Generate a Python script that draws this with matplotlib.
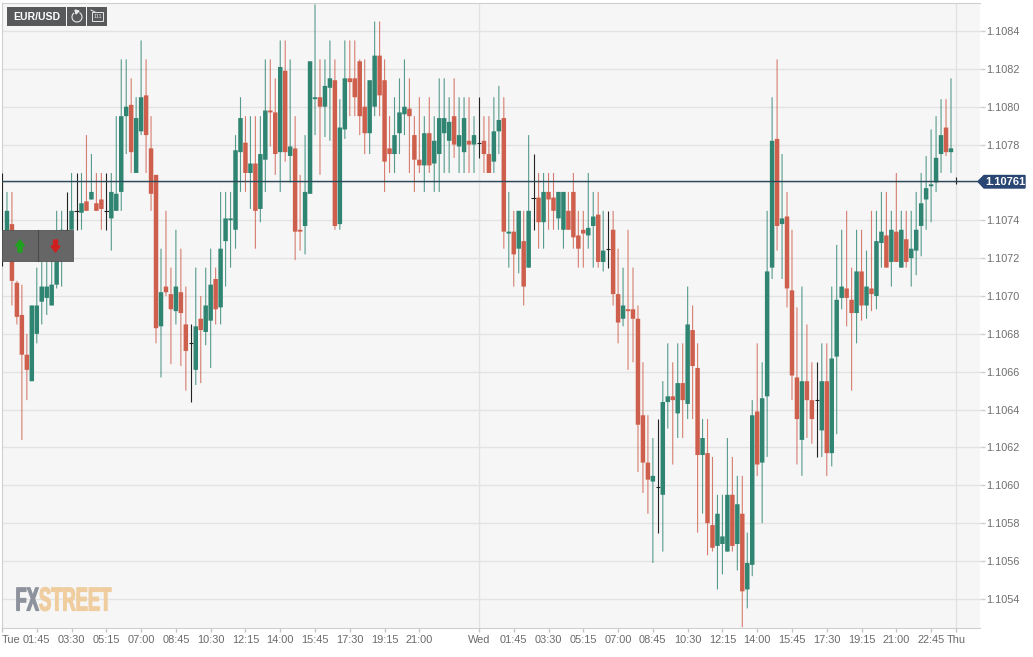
import matplotlib
matplotlib.use("Agg")
import matplotlib.pyplot as plt
from matplotlib.patches import Rectangle, Polygon, Arc
from matplotlib.patheffects import AbstractPathEffect
from matplotlib.transforms import Affine2D

# EUR/USD 15 minute candles, in points above 1.10000
opens = [
    732, 730, 738, 707, 690, 669, 655, 680, 697, 699,
    695, 706, 721, 735, 735, 745, 744, 750, 751, 749,
    751, 745, 741, 745, 755, 795, 801, 765, 787, 806,
    778, 764, 684, 705, 701, 692, 702, 685, 675, 661,
    688, 681, 687, 709, 694, 729, 740, 735, 776, 781,
    765, 770, 746, 772, 798, 797, 776, 819, 774, 778,
    735, 737, 754, 804, 805, 800, 810, 814, 738, 788,
    815, 815, 824, 800, 786, 800, 827, 814, 778, 775,
    786, 796, 799, 785, 772, 769, 786, 770, 775, 786,
    782, 795, 779, 776, 782, 780, 781, 782, 775, 771,
    787, 794, 733, 734, 725, 729, 715, 752, 752, 739,
    755, 752, 741, 735, 745, 755, 732, 735, 732, 737,
    743, 718, 725, 735, 701, 688, 693, 693, 688, 637,
    612, 602, 599, 595, 644, 647, 638, 654, 643, 682,
    662, 616, 617, 579, 568, 569, 565, 595, 569, 585,
    545, 558, 639, 612, 647, 715, 783, 738, 742, 703,
    657, 624, 655, 645, 645, 629, 655, 617, 668, 699,
    704, 698, 691, 713, 695, 704, 700, 728, 732, 718,
    734, 715, 730, 720, 724, 737, 751, 758, 760, 775,
    789, 776, 761,
]
highs = [
    765, 755, 755, 708, 706, 680, 695, 715, 720, 725,
    719, 745, 745, 755, 765, 765, 765, 785, 775, 765,
    765, 765, 765, 795, 825, 825, 815, 805, 835, 825,
    795, 764, 725, 745, 715, 735, 725, 705, 685, 715,
    700, 715, 725, 715, 755, 755, 755, 785, 805, 795,
    795, 795, 795, 825, 825, 815, 835, 835, 825, 795,
    764, 785, 824, 854, 825, 825, 835, 825, 804, 835,
    835, 835, 825, 825, 814, 845, 845, 825, 795, 805,
    815, 825, 815, 795, 805, 795, 805, 795, 815, 815,
    805, 815, 805, 805, 805, 795, 805, 795, 795, 805,
    811, 805, 755, 745, 745, 745, 785, 775, 765, 765,
    765, 765, 755, 755, 755, 765, 745, 745, 765, 755,
    755, 745, 745, 745, 725, 715, 735, 715, 695, 665,
    637, 625, 635, 655, 675, 665, 675, 675, 705, 695,
    675, 635, 635, 615, 595, 595, 625, 615, 605, 605,
    575, 645, 675, 665, 745, 805, 825, 775, 755, 735,
    694, 705, 685, 665, 665, 675, 675, 705, 727, 735,
    745, 715, 735, 735, 724, 745, 745, 755, 755, 745,
    765, 745, 745, 745, 755, 765, 774, 788, 795, 804,
    804, 815, 763,
]
lows = [
    716, 723, 695, 685, 624, 645, 655, 675, 685, 690,
    695, 704, 705, 725, 735, 735, 735, 745, 751, 745,
    735, 735, 724, 745, 745, 775, 765, 765, 785, 765,
    745, 675, 657, 700, 664, 685, 663, 650, 644, 653,
    654, 674, 662, 685, 685, 705, 715, 725, 755, 755,
    746, 725, 739, 755, 779, 764, 755, 771, 760, 719,
    724, 722, 754, 785, 764, 784, 782, 735, 735, 783,
    795, 795, 785, 775, 775, 795, 795, 755, 765, 765,
    775, 785, 765, 755, 765, 755, 765, 755, 755, 765,
    765, 773, 765, 765, 765, 765, 773, 765, 765, 765,
    775, 725, 715, 705, 712, 695, 715, 735, 725, 725,
    735, 735, 735, 725, 735, 725, 715, 715, 725, 715,
    715, 713, 715, 695, 675, 684, 661, 665, 607, 596,
    585, 559, 575, 565, 630, 611, 625, 625, 635, 635,
    575, 585, 563, 565, 545, 553, 565, 565, 555, 525,
    535, 552, 605, 580, 615, 709, 724, 709, 694, 645,
    611, 605, 625, 622, 615, 615, 605, 610, 627, 693,
    684, 650, 675, 687, 688, 692, 693, 715, 715, 705,
    718, 715, 715, 705, 711, 721, 735, 739, 755, 765,
    774, 765, 759,
]
closes = [
    732, 745, 708, 689, 669, 661, 695, 695, 705, 705,
    706, 721, 735, 735, 745, 745, 749, 745, 755, 745,
    746, 745, 755, 754, 795, 800, 776, 794, 805, 785,
    754, 683, 702, 702, 693, 705, 691, 671, 675, 684,
    682, 695, 706, 693, 725, 741, 741, 777, 794, 765,
    770, 745, 775, 798, 797, 775, 821, 776, 779, 734,
    734, 755, 824, 805, 800, 811, 815, 737, 789, 815,
    813, 805, 795, 786, 814, 827, 806, 771, 775, 785,
    797, 800, 795, 772, 769, 786, 769, 782, 794, 794,
    792, 780, 785, 794, 780, 785, 781, 775, 765, 787,
    793, 734, 734, 722, 745, 705, 745, 752, 739, 755,
    751, 745, 755, 755, 735, 731, 725, 733, 736, 742,
    718, 724, 725, 701, 686, 695, 692, 688, 632, 612,
    603, 605, 599, 644, 647, 645, 654, 645, 685, 663,
    616, 625, 580, 567, 585, 573, 595, 568, 590, 544,
    559, 637, 611, 646, 713, 782, 737, 741, 704, 658,
    635, 655, 645, 635, 645, 655, 617, 667, 698, 705,
    699, 691, 713, 695, 705, 701, 729, 734, 715, 735,
    718, 735, 718, 725, 735, 749, 757, 759, 773, 785,
    776, 778, 761,
]
last_price = 761
price_ticks = [1.1054, 1.1056, 1.1058, 1.1060, 1.1062, 1.1064, 1.1066, 1.1068,
               1.1070, 1.1072, 1.1074, 1.1076, 1.1078, 1.1080, 1.1082, 1.1084]
time_ticks = [0, 7, 14, 21, 28, 35, 42, 49, 56, 63, 70, 77, 84, 96,
              103, 110, 117, 124, 131, 138, 145, 152, 159, 166, 173, 180, 187, 192]
time_labels = ["Tue", "01:45", "03:30", "05:15", "07:00", "08:45", "10:30", "12:15", "14:00",
               "15:45", "17:30", "19:15", "21:00", "Wed",
               "01:45", "03:30", "05:15", "07:00", "08:45", "10:30", "12:15", "14:00",
               "15:45", "17:30", "19:15", "21:00", "22:45", "Thu"]

UP = "#2f8472"
DOWN = "#cf5f4d"
FONT = ["Liberation Sans", "DejaVu Sans"]


class StretchY(AbstractPathEffect):
    # the logo is much more condensed than any font here, so stretch the glyphs up
    def __init__(self, k):
        super().__init__()
        self.k = k

    def draw_path(self, renderer, gc, tpath, affine, rgbFace=None):
        gc0 = renderer.new_gc()
        gc0.copy_properties(gc)
        gc0.set_foreground(rgbFace)
        gc0.set_linewidth(0.9)
        renderer.draw_path(gc0, tpath, Affine2D().scale(1, self.k) + affine, rgbFace)
        gc0.restore()


plt.rcParams["font.family"] = FONT
fig = plt.figure(figsize=(10.33, 6.57), dpi=100, facecolor="white")
ax = fig.add_axes([2 / 1033, 29 / 657, 978 / 1033, 625 / 657], facecolor="#f6f6f6")


def price(p):
    return 1.1 + p * 1e-5


for i in range(len(opens)):
    o, h, l, c = price(opens[i]), price(highs[i]), price(lows[i]), price(closes[i])
    if opens[i] == closes[i]:
        ax.vlines(i, l, h, color="#222222", lw=0.8, zorder=3)
        ax.hlines(o, i - 0.45, i + 0.45, color="#222222", lw=0.8, zorder=3)
        continue
    col = UP if c > o else DOWN
    ax.vlines(i, l, h, color=col, lw=0.8, alpha=0.8, snap=False, zorder=3)
    ax.bar(i, abs(c - o), bottom=min(o, c), width=0.9, color=col, linewidth=0, snap=False, zorder=4)

ax.axhline(price(last_price), color="#2b4858", lw=1, zorder=5)
for v in [96, 192]:
    ax.axvline(v, color="#e2e2e2", lw=1, zorder=1)

ax.set_xlim((2 - 1.7) / 4.97, (980 - 1.7) / 4.97)
ax.set_ylim(1.1084 - (628 - 31) / 18.93 * 1e-4, 1.1084 + 28 / 18.93 * 1e-4)
ax.yaxis.tick_right()
ax.set_yticks(price_ticks)
# the flag on the last price hides the 1.1076 label
ax.set_yticklabels(["" if p == 1.1076 else "%.4f" % p for p in price_ticks])
ax.set_xticks(time_ticks)
ax.set_xticklabels(time_labels)
ax.xaxis.get_majorticklabels()[0].set_ha("left")
ax.tick_params(axis="y", length=3.5, width=1, color="#d0d0d0", labelcolor="#6f6f6f", labelsize=7.8, pad=0.6)
ax.tick_params(axis="x", length=3, width=1, color="#c4c4c4", labelcolor="#6a6a6a", labelsize=7.9, pad=2)
ax.grid(axis="y", color="#e3e3e3", lw=1, zorder=0)
ax.set_axisbelow(True)
for s in ["top", "left", "bottom"]:
    ax.spines[s].set_color("#cfcfcf")
ax.spines["right"].set_visible(False)

# toolbar, buttons, price flag and logo sit on top, laid out in pixels
ov = fig.add_axes([0, 0, 1, 1], facecolor="none")
ov.set_xlim(0, 1033)
ov.set_ylim(657, 0)
ov.axis("off")

ov.add_patch(Rectangle((7, 7), 59, 19, facecolor="#58595b", linewidth=0, zorder=6))
ov.add_patch(Rectangle((67, 7), 19, 19, facecolor="#58595b", linewidth=0, zorder=6))
ov.add_patch(Rectangle((87, 7), 20, 19, facecolor="#58595b", linewidth=0, zorder=6))
ov.text(36.5, 16.5, "EUR/USD", color="white", fontsize=7.6, fontweight="bold",
        ha="center", va="center", zorder=7)
ov.add_patch(Arc((77, 17), 10, 10, theta1=-60, theta2=235, color="#e8e8e8", lw=0.8, zorder=7))
ov.add_patch(Polygon([(75, 10), (79, 11), (76, 14)], color="#e8e8e8", zorder=7))
ov.add_patch(Rectangle((92, 12), 11, 9, fill=False, edgecolor="#e8e8e8", lw=0.7, zorder=7))
ov.plot([91, 95], [10, 12], color="#e8e8e8", lw=0.7, zorder=7)
ov.text(97.5, 17, "111", color="#e8e8e8", fontsize=4, ha="center", va="center", zorder=7)

ov.add_patch(Rectangle((2, 230), 71, 31, facecolor="#666666", edgecolor="#555555", lw=0.6, zorder=6))
ov.plot([37.5, 37.5], [230, 261], color="#4a4a4a", lw=0.8, zorder=7)
ov.add_patch(Polygon([(20, 240), (24.5, 246), (22, 246), (22, 252), (18, 252), (18, 246), (15.5, 246)],
                     color="#1fa21f", zorder=7))
ov.add_patch(Polygon([(55.5, 252), (60, 246), (57.5, 246), (57.5, 240), (53.5, 240), (53.5, 246), (51, 246)],
                     color="#d11f1f", zorder=7))

ov.add_patch(Polygon([(978, 181.5), (984, 175.5), (1025, 175.5), (1025, 188), (984, 188)],
                     color="#2a4672", zorder=6))
ov.text(1005, 182, "1.10761", color="white", fontsize=8, fontweight="bold",
        ha="center", va="center", zorder=7)

logo_font = ["Liberation Sans Narrow", "Liberation Sans", "DejaVu Sans"]
t1 = ov.text(15.5, 610.5, "FX", color="#8d929c", fontsize=13.2, fontweight="bold", family=logo_font,
             ha="left", va="baseline", zorder=2)
t2 = ov.text(39, 610.5, "STREET", color="#efcd9f", fontsize=13.2, fontweight="bold", family=logo_font,
             ha="left", va="baseline", zorder=2)
t1.set_path_effects([StretchY(1.8)])
t2.set_path_effects([StretchY(1.8)])

fig.savefig("out.png", dpi=100, facecolor="white")
